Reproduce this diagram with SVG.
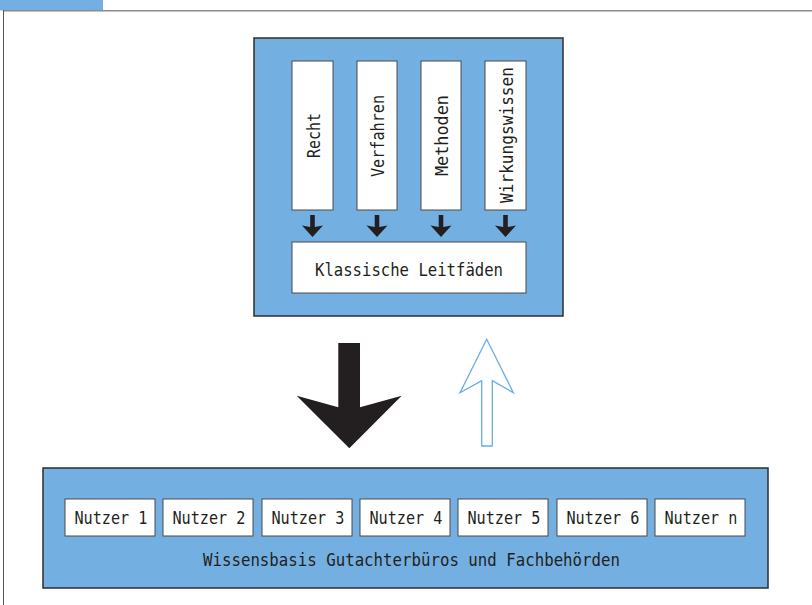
<svg xmlns="http://www.w3.org/2000/svg" width="812" height="605" viewBox="0 0 812 605">
<style>
.frame{fill:#73afe0;stroke:#2e2e2e;stroke-width:1.5}
.box{fill:#fff;stroke:#4a4a4a;stroke-width:1}
.t{font-family:"DejaVu Sans Mono","Liberation Mono",monospace;font-size:17.5px;fill:#231f20}
.m{text-anchor:middle}
.sa{fill:#231f20}
</style>
<rect width="812" height="605" fill="#fff"/>
<g id="header">
<rect x="0" y="0" width="103" height="10.5" fill="#73afe0"/>
<line x1="3" y1="10.8" x2="812" y2="10.8" stroke="#8a8a8a" stroke-width="1.6"/>
<line x1="3.5" y1="10" x2="3.5" y2="605" stroke="#555" stroke-width="1"/>
</g>
<g id="top-frame">
<rect class="frame" x="254" y="38" width="309" height="278"/>
</g>
<g id="recht">
<rect class="box" x="292" y="61" width="41" height="149"/>
<text class="t m" transform="translate(319.5,135.5) rotate(-90)" textLength="45" lengthAdjust="spacingAndGlyphs">Recht</text>
</g>
<g id="verfahren">
<rect class="box" x="357" y="61" width="40" height="149"/>
<text class="t m" transform="translate(384,136) rotate(-90)" textLength="82" lengthAdjust="spacingAndGlyphs">Verfahren</text>
</g>
<g id="methoden">
<rect class="box" x="421" y="61" width="40" height="149"/>
<text class="t m" transform="translate(448,135.5) rotate(-90)" textLength="81" lengthAdjust="spacingAndGlyphs">Methoden</text>
</g>
<g id="wirkungswissen">
<rect class="box" x="485" y="61" width="41" height="149"/>
<text class="t m" transform="translate(512.5,135) rotate(-90)" textLength="136" lengthAdjust="spacingAndGlyphs">Wirkungswissen</text>
</g>
<g id="leitfaeden">
<rect class="box" x="292" y="242" width="234" height="51"/>
<text class="t m" x="409" y="276" textLength="188" lengthAdjust="spacingAndGlyphs">Klassische Leitfäden</text>
</g>
<g id="bottom-frame">
<rect class="frame" x="43" y="468" width="725" height="120"/>
<text class="t m" x="411.5" y="566" textLength="417" lengthAdjust="spacingAndGlyphs">Wissensbasis Gutachterbüros und Fachbehörden</text>
</g>
<g id="nutzer1"><rect class="box" x="65" y="499" width="90" height="37"/><text class="t m" x="111" y="524" textLength="73" lengthAdjust="spacingAndGlyphs">Nutzer 1</text></g>
<g id="nutzer2"><rect class="box" x="163" y="499" width="90" height="37"/><text class="t m" x="209" y="524" textLength="73" lengthAdjust="spacingAndGlyphs">Nutzer 2</text></g>
<g id="nutzer3"><rect class="box" x="262" y="499" width="90" height="37"/><text class="t m" x="308" y="524" textLength="73" lengthAdjust="spacingAndGlyphs">Nutzer 3</text></g>
<g id="nutzer4"><rect class="box" x="360" y="499" width="90" height="37"/><text class="t m" x="406" y="524" textLength="73" lengthAdjust="spacingAndGlyphs">Nutzer 4</text></g>
<g id="nutzer5"><rect class="box" x="458" y="499" width="90" height="37"/><text class="t m" x="504" y="524" textLength="73" lengthAdjust="spacingAndGlyphs">Nutzer 5</text></g>
<g id="nutzer6"><rect class="box" x="557" y="499" width="90" height="37"/><text class="t m" x="603" y="524" textLength="73" lengthAdjust="spacingAndGlyphs">Nutzer 6</text></g>
<g id="nutzern"><rect class="box" x="655" y="499" width="90" height="37"/><text class="t m" x="701" y="524" textLength="73" lengthAdjust="spacingAndGlyphs">Nutzer n</text></g>
<g id="connectors">
<defs>
<polygon id="sarrow" points="-2.3,0 2.3,0 2.3,12 10.5,10.5 0,22 -10.5,10.5 -2.3,12"/>
</defs>
<use href="#sarrow" class="sa" x="312.5" y="215"/>
<use href="#sarrow" class="sa" x="377" y="215"/>
<use href="#sarrow" class="sa" x="441" y="215"/>
<use href="#sarrow" class="sa" x="505.5" y="215"/>
<polygon points="338.3,343 360,343 360,407.3 401.7,395.7 349.3,448.3 296.7,395.7 338.3,407.3" fill="#231f20"/>
<polygon points="486.7,339.3 513.3,392.7 492.3,380.7 492.3,446 481.7,446 481.7,380.7 460,392.7" fill="#fff" stroke="#6aaee4" stroke-width="1.3"/>
</g>
</svg>
